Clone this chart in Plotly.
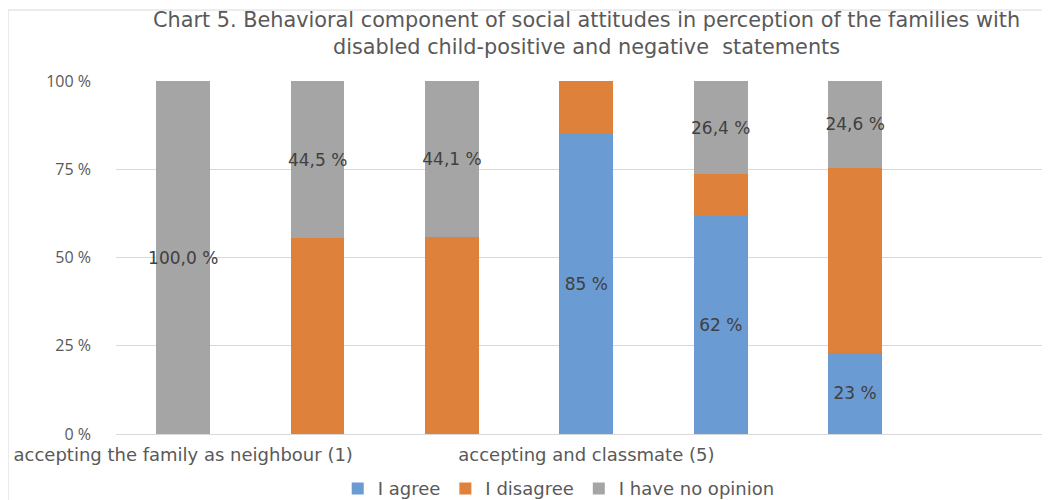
import plotly.graph_objects as go

tick_labels = ["accepting the family as neighbour (1)", "", "", "accepting and classmate (5)", "", ""]
positions = [0, 1, 2, 3, 4, 5]
agree = [0, 0, 0, 85, 62, 23]
disagree = [0, 55.5, 55.9, 15, 11.6, 52.4]
no_opinion = [100.0, 44.5, 44.1, 0, 26.4, 24.6]
y_ticks = [0, 25, 50, 75, 100]

series_names = ["I agree", "I disagree", "I have no opinion"]
colors = ["#6A9BD3", "#DE813B", "#A5A5A5"]

def fmt_int(v):
    return f"{v:.0f} %" if v > 0 else ""

def fmt_dec(v):
    return f"{v:.1f} %".replace(".", ",") if v > 0 else ""

texts = [[fmt_int(v) for v in agree], ["" for v in disagree], [fmt_dec(v) for v in no_opinion]]

fig = go.Figure()
for name, vals, col, txt in zip(series_names, [agree, disagree, no_opinion], colors, texts):
    fig.add_trace(go.Bar(
        x=positions, y=vals, name=name, marker=dict(color=col, line=dict(width=0)),
        text=txt, textposition="inside", insidetextanchor="middle", textangle=0,
        constraintext="none", texttemplate="%{text}",
        textfont=dict(family="DejaVu Sans", size=17, color="#404040"),
        hoverinfo="skip",
    ))

fig.update_layout(
    barmode="stack", bargap=0.6,
    width=1042, height=492,
    margin=dict(l=108, r=0, t=73, b=66, autoexpand=False),
    paper_bgcolor="white", plot_bgcolor="white",
    showlegend=True,
    legend=dict(orientation="h", x=0.474, xanchor="center", y=-0.155, yanchor="middle",
                font=dict(family="DejaVu Sans", size=18, color="#595959"), traceorder="normal",
                itemwidth=30),
    xaxis=dict(range=[-0.5, 6.45], tickvals=[positions[i] for i in range(len(tick_labels)) if tick_labels[i]],
               ticktext=[t for t in tick_labels if t], showgrid=False, zeroline=False,
               showline=True, linecolor="#d9d9d9", linewidth=1, ticks="",
               ticklabelstandoff=4,
               tickfont=dict(family="DejaVu Sans", size=18, color="#595959")),
    yaxis=dict(range=[0, 100], tickvals=y_ticks, ticktext=[f"{v} %" for v in y_ticks],
               showgrid=True, gridcolor="#d9d9d9", gridwidth=1, zeroline=False,
               ticklabelstandoff=24,
               tickfont=dict(family="Open Sans", size=16, color="#595959")),
    annotations=[dict(
        text="Chart 5. Behavioral component of social attitudes in perception of the families with<br>disabled child-positive and negative  statements",
        xref="paper", yref="paper", x=0.504, y=1.213, xanchor="center", yanchor="top",
        showarrow=False, align="center",
        font=dict(family="DejaVu Sans", size=20.8, color="#595959"),
    )],
    shapes=[dict(type="rect", xref="paper", yref="paper", x0=-0.1156, x1=1.2, y0=-1, y1=1.201,
                 line=dict(color="#d9d9d9", width=1), fillcolor="rgba(0,0,0,0)", layer="below")],
)

fig.write_html("out.html")
